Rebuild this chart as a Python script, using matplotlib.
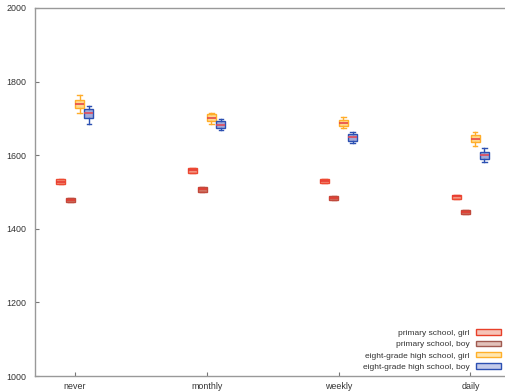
import numpy as np
import matplotlib
matplotlib.use("Agg")
import matplotlib.pyplot as plt
from matplotlib.patches import Patch

plt.rcParams["font.family"] = ["Liberation Sans", "DejaVu Sans"]

# categories on the x axis
freq = ["never", "monthly", "weekly", "daily"]

# box statistics per group: median, quartiles, whisker ends
pg_med = [1528, 1559, 1530, 1488]
pg_q1 = [1522, 1552, 1524, 1482]
pg_q3 = [1534, 1564, 1535, 1493]

pb_med = [1478, 1508, 1483, 1446]
pb_q1 = [1472, 1501, 1478, 1441]
pb_q3 = [1484, 1514, 1488, 1451]

eg_med = [1738, 1702, 1688, 1645]
eg_q1 = [1727, 1694, 1679, 1636]
eg_q3 = [1751, 1712, 1697, 1655]
eg_lo = [1715, 1685, 1673, 1625]
eg_hi = [1763, 1716, 1703, 1664]

eb_med = [1715, 1683, 1649, 1601]
eb_q1 = [1702, 1673, 1639, 1590]
eb_q3 = [1726, 1693, 1658, 1609]
eb_lo = [1686, 1668, 1632, 1581]
eb_hi = [1734, 1698, 1663, 1619]

labels = ["primary school, girl", "primary school, boy",
          "eight-grade high school, girl", "eight-grade high school, boy"]


def stats(med, q1, q3, lo=None, hi=None):
    lo = q1 if lo is None else lo
    hi = q3 if hi is None else hi
    return [dict(med=m, q1=a, q3=b, whislo=l, whishi=h, fliers=[])
            for m, a, b, l, h in zip(med, q1, q3, lo, hi)]


groups = [
    (stats(pg_med, pg_q1, pg_q3), "#ec4a32", "#f39480", "#e83a30", "#e8402a", "#f6c4b8"),
    (stats(pb_med, pb_q1, pb_q3), "#c04a3c", "#d27464", "#e03a30", "#a05a50", "#e2c2ba"),
    (stats(eg_med, eg_q1, eg_q3, eg_lo, eg_hi), "#ffad2a", "#ffd98c", "#e84848", "#ffb02a", "#ffe6b0"),
    (stats(eb_med, eb_q1, eb_q3, eb_lo, eb_hi), "#2c50b2", "#a2aad8", "#e04a5a", "#2c50b2", "#c4cbea"),
]

fig = plt.figure(figsize=(5.06, 3.92), dpi=100)
ax = fig.add_axes([35 / 506, 16 / 392, 471 / 506, 368 / 392])

x = np.arange(len(freq))
step = 0.071
offsets = np.array([-1.5, -0.5, 0.5, 1.5]) * step

for k, (st, edge, face, medc, _, _) in enumerate(groups):
    ax.bxp(st, positions=x + offsets[k], widths=0.068, patch_artist=True,
           showfliers=False, manage_ticks=False,
           boxprops=dict(facecolor=face, edgecolor=edge, linewidth=1.0),
           whiskerprops=dict(color=edge, linewidth=1.0),
           capprops=dict(color=edge, linewidth=1.0),
           medianprops=dict(color=medc, linewidth=1.2))

ax.set_xlim(-0.303, 3.27)
ax.set_ylim(1000, 2000)
ax.set_yticks(np.arange(1000, 2001, 200))
ax.set_xticks(x)
ax.set_xticklabels(freq)

for side in ["left", "bottom", "top"]:
    ax.spines[side].set_color("#999999")
    ax.spines[side].set_linewidth(1.0)
ax.spines["right"].set_visible(False)
ax.tick_params(direction="in", length=3, width=0.8, color="#777777",
               labelsize=6.4, labelcolor="#333333", pad=4)
ax.tick_params(axis="y", pad=6)

handles = [Patch(facecolor=g[5], edgecolor=g[4], linewidth=1.0) for g in groups]
leg = ax.legend(handles, labels, loc="lower right", frameon=False, fontsize=6,
                markerfirst=False, handlelength=3.0, handleheight=0.6,
                labelspacing=0.45, borderaxespad=0.2, handletextpad=0.8)
for t in leg.get_texts():
    t.set_color("#333333")

fig.savefig("out.png", dpi=100)
